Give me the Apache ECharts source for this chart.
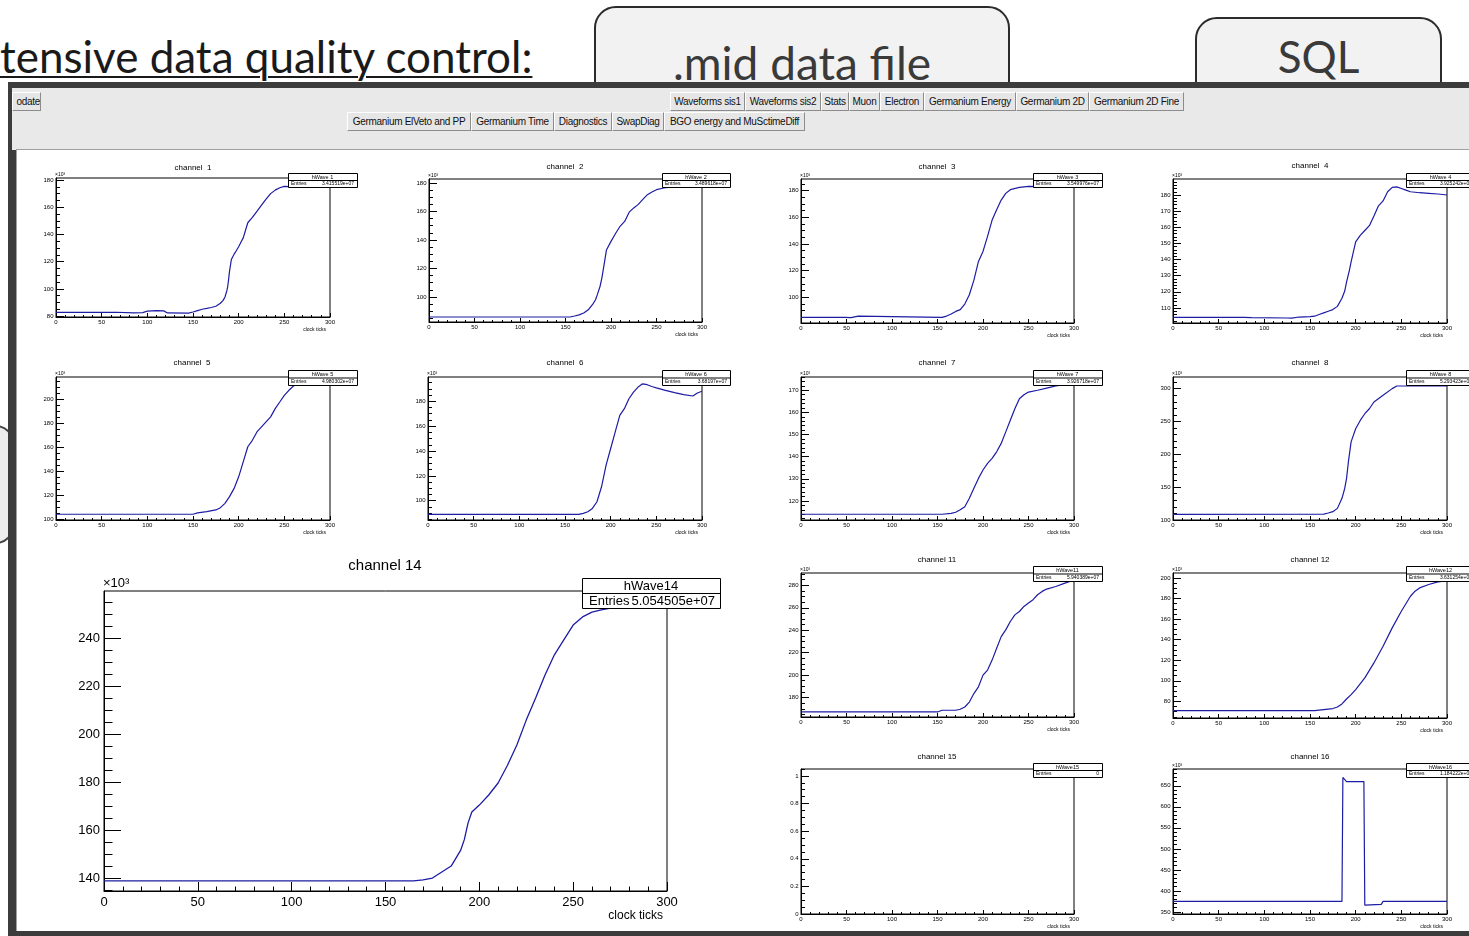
<!DOCTYPE html>
<html>
<head>
<meta charset="utf-8">
<title>Waveforms sis1</title>
<script src="https://cdn.jsdelivr.net/npm/echarts@6/dist/echarts.min.js"></script>
<style>
html, body { margin: 0; padding: 0; }
body { width: 1469px; height: 936px; overflow: hidden; background: #fff; position: relative; font-family: 'Liberation Sans', Arial, sans-serif; }
.slide-title { position: absolute; left: 0; top: 34px; font-family: Lato, sans-serif; font-size: 44px; line-height: 44px; color: #1a1a1a; text-decoration: underline; text-decoration-thickness: 2px; text-underline-offset: 3px; white-space: nowrap; }
.slide-box { position: absolute; border: 2px solid #2b2b2b; border-radius: 22px; background: #f2f2f2; color: #3a3a3a; font-family: Lato, sans-serif; text-align: center; box-sizing: border-box; white-space: nowrap; }
.win { position: absolute; left: 8px; top: 82px; width: 1470px; height: 854px; background: #3c3c3c; }
.toolbar { position: absolute; left: 12px; top: 88px; width: 1460px; height: 62px; background: #e9e9e9; }
.btn { position: absolute; height: 19px; line-height: 17px; font-size: 10px; background: #e6e6e6; border-top: 1px solid #fff; border-left: 1px solid #fff; border-right: 1px solid #8c8c8c; border-bottom: 1px solid #8c8c8c; box-sizing: border-box; text-align: center; white-space: nowrap; overflow: hidden; color: #111; letter-spacing: -0.3px; }
.canvas { position: absolute; left: 16px; top: 149px; width: 1460px; height: 781px; background: #fff; border-top: 1px solid #a0a0a0; border-left: 1px solid #a0a0a0; }
#chart { position: absolute; left: 0; top: 0; width: 1469px; height: 936px; }
</style>
</head>
<body>
<div style="position:absolute;left:-100px;top:425px;width:110px;height:115px;border:2px solid #444;border-radius:18px;background:#eee;"></div>
<div class="slide-title">tensive data quality control:</div>
<div class="slide-box" style="left:594px;top:6px;width:416px;height:110px;font-size:46px;line-height:110px;">.mid data file</div>
<div class="slide-box" style="left:1195px;top:17px;width:247px;height:100px;font-size:44px;line-height:74px;">SQL</div>

<div class="win"></div>
<div style="position:absolute;left:1362px;top:88px;width:14px;height:2px;background:#aaa;"></div>
<div class="toolbar"></div>
<div class="btn" style="left:12px;top:92px;width:29px;text-align:right;">odate</div>
<div class="btn" style="left:670px;top:92px;width:75px;">Waveforms sis1</div>
<div class="btn" style="left:745px;top:92px;width:76px;">Waveforms sis2</div>
<div class="btn" style="left:821px;top:92px;width:28px;">Stats</div>
<div class="btn" style="left:849px;top:92px;width:31px;">Muon</div>
<div class="btn" style="left:880px;top:92px;width:44px;">Electron</div>
<div class="btn" style="left:924px;top:92px;width:92px;">Germanium Energy</div>
<div class="btn" style="left:1016px;top:92px;width:73px;">Germanium 2D</div>
<div class="btn" style="left:1089px;top:92px;width:95px;">Germanium 2D Fine</div>
<div class="btn" style="left:347px;top:112px;width:124px;">Germanium ElVeto and PP</div>
<div class="btn" style="left:471px;top:112px;width:83px;">Germanium Time</div>
<div class="btn" style="left:554px;top:112px;width:58px;">Diagnostics</div>
<div class="btn" style="left:612px;top:112px;width:52px;">SwapDiag</div>
<div class="btn" style="left:664px;top:112px;width:141px;">BGO energy and MuSctimeDiff</div>
<div class="canvas"></div>

<div id="chart"></div>

<script>
// waveform samples [clock tick, ADC value / 1000]
const wave1 = [[0, 82.7], [40, 82.7], [42, 83], [66, 82.8], [68, 83.1], [85, 82.4], [95, 82.5], [100, 83.6], [110, 84], [118, 83.8], [122, 82.3], [145, 82.2], [150, 83], [155, 84], [160, 85], [165, 85.6], [170, 86.3], [175, 87.2], [180, 89.4], [183, 91.5], [185, 94], [187, 98.5], [188, 101.7], [189, 107], [190, 113], [192, 121.5], [195, 125.5], [197, 127.6], [200, 131], [203, 135], [205, 137.5], [207, 142], [210, 148.6], [215, 152.5], [220, 157], [225, 161.5], [230, 165.9], [235, 170], [240, 172.6], [245, 174.3], [250, 175.3], [255, 175.1], [300, 175]]
const wave2 = [[0, 85.9], [155, 85.9], [160, 86.6], [165, 87.4], [170, 88.7], [175, 91], [180, 95], [183, 98], [185, 101.6], [188, 107.5], [190, 113.4], [193, 125], [195, 133], [200, 139], [205, 144.5], [210, 149.6], [215, 153], [220, 159.5], [225, 162.5], [230, 165], [235, 168.5], [240, 171.8], [245, 173.7], [250, 175.3], [258, 176.5], [270, 177.5], [300, 178]]
const wave3 = [[0, 85], [48, 85], [50, 84.3], [55, 84.8], [57, 86], [63, 86], [65, 85], [155, 85], [160, 86], [165, 87.5], [170, 89.5], [175, 90.8], [180, 95], [185, 102], [190, 113], [195, 127], [200, 134.5], [205, 145.8], [210, 158], [215, 165.8], [220, 173], [225, 178], [230, 180.8], [240, 182.5], [250, 183.2], [300, 183]]
const wave4 = [[0, 104.2], [78, 104.2], [80, 103.8], [86, 104], [125, 103.8], [130, 103.7], [138, 104.4], [150, 104.6], [155, 104.9], [160, 106], [165, 107], [170, 108], [175, 109], [180, 111], [185, 116], [188, 120.5], [190, 126], [193, 133], [195, 138.5], [198, 146], [200, 151], [205, 155], [210, 158], [215, 161], [220, 167], [225, 173.3], [230, 176.3], [235, 182], [240, 184.7], [245, 185], [250, 184], [255, 183], [260, 182], [270, 181.4], [280, 181], [290, 180.6], [300, 180]]
const wave5 = [[0, 104.2], [150, 104.2], [155, 105.3], [165, 106.4], [175, 107.8], [180, 109.7], [185, 113.3], [190, 118.9], [195, 125.8], [200, 135.5], [205, 148], [210, 160.6], [215, 166], [220, 173], [225, 177.2], [230, 181.4], [235, 185.6], [240, 192.5], [245, 198], [250, 203.6], [255, 207.8], [260, 211.4], [265, 212.5], [300, 213.3]]
const wave6 = [[0, 89], [165, 89], [170, 89.8], [175, 91.1], [180, 93.8], [185, 99.2], [190, 111.2], [195, 128.6], [200, 142], [205, 155.3], [210, 168.7], [215, 174], [220, 182], [225, 187.4], [230, 191.4], [235, 194], [240, 193.3], [245, 191.9], [250, 190.8], [260, 188.7], [270, 186.9], [280, 185.3], [290, 184.2], [295, 186.6], [300, 188]]
const wave7 = [[0, 114], [155, 114], [165, 114.4], [170, 114.9], [175, 116], [180, 117.4], [185, 121.2], [190, 125.7], [195, 130.2], [200, 134], [205, 137], [210, 139.2], [215, 142.2], [220, 146], [225, 151.2], [230, 156.5], [235, 161.7], [240, 166.2], [245, 168], [250, 169.2], [260, 170], [270, 171], [280, 172], [290, 172.5], [300, 173]]
const wave8 = [[0, 108.6], [165, 109], [170, 110.6], [175, 112.7], [180, 117.7], [185, 133], [188, 148], [190, 163], [192, 188], [195, 219], [200, 239], [205, 251.6], [210, 261.8], [215, 269.4], [220, 279.7], [230, 289.9], [240, 300], [245, 304], [300, 304]]
const wave11 = [[0, 167.2], [150, 167.2], [155, 168.7], [170, 168.7], [175, 169.6], [180, 171.6], [185, 176], [190, 183.6], [195, 189.6], [200, 200], [205, 204.5], [210, 213.4], [215, 223.9], [220, 234.3], [225, 240.3], [230, 247.8], [235, 253.7], [240, 256.7], [245, 261.2], [250, 264.2], [255, 267.2], [260, 271.6], [265, 274.6], [270, 276.7], [280, 279], [290, 282], [297, 284], [300, 284.5]]
const wave12 = [[0, 70.9], [155, 70.9], [165, 72], [175, 73], [180, 74.5], [185, 77.5], [190, 82.3], [195, 86.5], [200, 91.4], [210, 102.8], [220, 117.4], [230, 133.6], [240, 151.5], [250, 167.7], [260, 182.3], [265, 187.2], [270, 190.4], [280, 193.7], [290, 196.3], [300, 197.5]]
const wave14 = [[0, 138.8], [165, 138.8], [170, 139.2], [175, 140], [180, 142.5], [185, 145], [190, 151.5], [192, 156], [194, 163], [196, 167.5], [200, 170.4], [205, 174.6], [210, 179.6], [215, 187], [220, 195.4], [225, 205.8], [230, 215], [235, 224.6], [240, 233], [245, 239.2], [250, 245.4], [255, 248.8], [260, 250.8], [265, 251.7], [270, 252.5], [280, 252.9], [290, 253.3], [300, 253.5]]
const wave15 = []
const wave16 = [[0, 375], [185, 375], [186, 670], [188, 668], [190, 660], [209, 660], [210, 366], [228, 368], [230, 375], [300, 375]]

// tick labels
const xTicks = [0, 50, 100, 150, 200, 250, 300]
const yTicks1 = [80, 100, 120, 140, 160, 180]
const yTicks2 = [100, 120, 140, 160, 180]
const yTicks3 = [100, 120, 140, 160, 180]
const yTicks4 = [110, 120, 130, 140, 150, 160, 170, 180]
const yTicks5 = [100, 120, 140, 160, 180, 200]
const yTicks6 = [100, 120, 140, 160, 180]
const yTicks7 = [120, 130, 140, 150, 160, 170]
const yTicks8 = [100, 150, 200, 250, 300]
const yTicks11 = [180, 200, 220, 240, 260, 280]
const yTicks12 = [80, 100, 120, 140, 160, 180, 200]
const yTicks14 = [140, 160, 180, 200, 220, 240]
const yTicks15 = [0, 0.2, 0.4, 0.6, 0.8, 1]
const yTicks16 = [350, 400, 450, 500, 550, 600, 650]

// stat box texts
const histNames = ['hWave 1', 'hWave 2', 'hWave 3', 'hWave 4', 'hWave 5', 'hWave 6', 'hWave 7', 'hWave 8', 'hWave11', 'hWave12', 'hWave14', 'hWave15', 'hWave16']
const entries = ['3.415519e+07', '3.489618e+07', '3.549976e+07', '3.925242e+07', '4.980302e+07', '3.68197e+07', '3.926718e+07', '5.293423e+07', '5.940389e+07', '3.631254e+07', '5.054505e+07', '0', '1.184222e+08']
const titles = ['channel  1', 'channel  2', 'channel  3', 'channel  4', 'channel  5', 'channel  6', 'channel  7', 'channel  8', 'channel 11', 'channel 12', 'channel 14', 'channel 15', 'channel 16']

// pad layout: frame [l, t, r, b], y range, title anchor, stat box [x, y, w, h]
const pads = [
  { wave: wave1, ticks: yTicks1, minor: 5, frame: [56, 178, 330, 317], y: [79.3, 181.5], title: [193, 168], stat: [288, 173, 69, 14] },
  { wave: wave2, ticks: yTicks2, minor: 5, frame: [429, 179, 702, 322], y: [82.4, 182.8], title: [565, 167], stat: [662, 173, 68, 14] },
  { wave: wave3, ticks: yTicks3, minor: 5, frame: [801, 179, 1074, 323], y: [80.8, 188.8], title: [937, 167], stat: [1033, 173, 69, 14] },
  { wave: wave4, ticks: yTicks4, minor: 2, frame: [1173, 179, 1447, 323], y: [100.7, 189.9], title: [1310, 166], stat: [1406, 173, 69, 14] },
  { wave: wave5, ticks: yTicks5, minor: 5, frame: [56, 377, 330, 520], y: [99.4, 218.9], title: [192, 363], stat: [288, 370, 69, 15] },
  { wave: wave6, ticks: yTicks6, minor: 5, frame: [428, 377, 702, 520], y: [84.5, 199.5], title: [565, 363], stat: [662, 370, 68, 15] },
  { wave: wave7, ticks: yTicks7, minor: 2, frame: [801, 377, 1074, 520], y: [111.4, 176], title: [937, 363], stat: [1033, 370, 69, 15] },
  { wave: wave8, ticks: yTicks8, minor: 10, frame: [1173, 377, 1447, 520], y: [100, 317.7], title: [1310, 363], stat: [1406, 370, 69, 15] },
  { wave: wave11, ticks: yTicks11, minor: 5, frame: [801, 573, 1074, 717], y: [162.7, 291], title: [937, 560], stat: [1033, 566, 69, 15] },
  { wave: wave12, ticks: yTicks12, minor: 5, frame: [1173, 573, 1447, 718], y: [63.8, 204.9], title: [1310, 560], stat: [1406, 566, 69, 15] },
  { wave: wave14, ticks: yTicks14, minor: 5, frame: [104, 591, 667, 891], y: [134.6, 259.6], title: [385, 566], stat: [582, 578, 138, 30], big: true },
  { wave: wave15, ticks: yTicks15, minor: 0.05, frame: [801, 769, 1074, 914], y: [0, 1.05], title: [937, 757], stat: [1033, 763, 69, 14], noExp: true },
  { wave: wave16, ticks: yTicks16, minor: 10, frame: [1173, 769, 1447, 914], y: [345, 690], title: [1310, 757], stat: [1406, 763, 69, 14] }
]

const FONT = '"Liberation Sans", Arial, sans-serif'
const LINE = '#1c1ca4'

const minorValues = (min, max, step, majors) => {
  const out = []
  for (let k = Math.ceil(min / step - 1e-9); k * step <= max + 1e-9; k++) {
    const v = +(k * step).toFixed(6)
    if (!majors.includes(v)) out.push(v)
  }
  return out
}

const txt = (x, y, s, size, align, valign) => ({
  type: 'text',
  z: 100,
  silent: true,
  style: {
    x: x,
    y: y,
    text: s,
    font: size + 'px ' + FONT,
    fill: '#000',
    textAlign: align || 'left',
    textVerticalAlign: valign || 'middle'
  }
})

const grid = []
const xAxis = []
const yAxis = []
const series = []
const elements = []

pads.forEach((p, i) => {
  const [l, t, r, b] = p.frame
  const big = !!p.big
  grid.push({ left: l, top: t, width: r - l, height: b - t, show: true, borderColor: '#000', borderWidth: 1, backgroundColor: 'transparent' })
  xAxis.push({
    gridIndex: i,
    type: 'value',
    min: 0,
    max: 300,
    interval: 50,
    axisLine: { show: true, onZero: false, lineStyle: { color: '#000', width: 1 } },
    axisTick: { inside: true, length: big ? 9 : 4, lineStyle: { color: '#000' } },
    minorTick: { show: true, splitNumber: 5, length: big ? 4.5 : 2, lineStyle: { color: '#000' } },
    splitLine: { show: false },
    axisLabel: { color: '#000', fontSize: big ? 13 : 6, fontFamily: FONT, margin: big ? 5 : 2, customValues: xTicks }
  })
  yAxis.push({
    gridIndex: i,
    type: 'value',
    position: 'left',
    min: p.y[0],
    max: p.y[1],
    axisLine: { show: true, onZero: false, lineStyle: { color: '#000', width: 1 } },
    axisTick: { inside: true, length: big ? 17 : 8, customValues: p.ticks, lineStyle: { color: '#000' } },
    splitLine: { show: false },
    axisLabel: { color: '#000', fontSize: big ? 13 : 6, fontFamily: FONT, margin: big ? 4 : 2.5, customValues: p.ticks }
  })
  // minor ticks on their own axis
  yAxis.push({
    gridIndex: i,
    type: 'value',
    position: 'left',
    min: p.y[0],
    max: p.y[1],
    axisLine: { show: false },
    axisTick: { inside: true, length: big ? 8.5 : 4, customValues: minorValues(p.y[0], p.y[1], p.minor, p.ticks), lineStyle: { color: '#000' } },
    splitLine: { show: false },
    axisLabel: { show: false }
  })
  series.push({
    type: 'line',
    xAxisIndex: i,
    yAxisIndex: i * 2,
    data: p.wave,
    showSymbol: false,
    symbol: 'none',
    silent: true,
    animation: false,
    lineStyle: { color: LINE, width: big ? 1.3 : 1.2 }
  })

  elements.push(txt(p.title[0], p.title[1], titles[i], big ? 15 : 8, 'center'))
  if (!p.noExp) elements.push(txt(l - 1, t - 1, '×10³', big ? 13 : 5, 'left', 'bottom'))
  elements.push(txt(r - 4, b + (big ? 25 : 12.5), 'clock ticks', big ? 12 : 5, 'right'))

  // stat box
  const [sx, sy, sw, sh] = p.stat
  elements.push({ type: 'rect', z: 99, silent: true, shape: { x: sx + 0.5, y: sy + 0.5, width: sw, height: sh }, style: { fill: '#fff', stroke: '#000', lineWidth: 1 } })
  elements.push({ type: 'line', z: 99, silent: true, shape: { x1: sx, y1: sy + sh / 2 + 0.5, x2: sx + sw, y2: sy + sh / 2 + 0.5 }, style: { stroke: '#000', lineWidth: 1 } })
  elements.push(txt(sx + sw / 2, sy + sh / 4 + 0.5, histNames[i], big ? 13 : 5.5, 'center'))
  elements.push(txt(sx + (big ? 7 : 3), sy + sh * 3 / 4 + 0.5, 'Entries', big ? 13 : 5, 'left'))
  elements.push(txt(sx + sw - (big ? 5 : 3), sy + sh * 3 / 4 + 0.5, entries[i], big ? 13 : 5, 'right'))
})

const chart = echarts.init(document.getElementById('chart'), null, { renderer: 'canvas' })
chart.setOption({
  backgroundColor: 'transparent',
  animation: false,
  grid: grid,
  xAxis: xAxis,
  yAxis: yAxis,
  series: series,
  graphic: { elements: elements }
})
</script>
</body>
</html>
